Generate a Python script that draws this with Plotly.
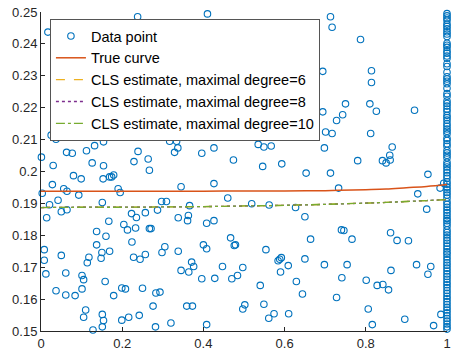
import plotly.graph_objects as go

# ---- data points (interior) ----
pts_x = [0.017,0.238,0.41,0.001,0.025,0.037,0.03,0.063,0.077,0.080,0.099,0.112,0.126,0.132,0.154,0.167,0.154,0.153,
         0.169,0.174,0.179,0.229,0.236,0.239,0.264,0.267,0.317,0.334,0.337,0.329,0.352,0.396,0.426,0.713,0.717,0.787,
         0.694,0.814,0.814,0.694,0.750,0.810,0.826,0.920,0.743,0.728,0.637,0.625,0.544,0.701,0.717,0.812,0.535,0.549,
         0.567,0.698,0.865,0.859,0.841,0.850,0.860,0.474,0.546,0.593,0.780,0.653,0.713,0.953,
         0.028,0.003,0.056,0.064,0.093,0.190,0.195,0.021,0.042,0.151,0.050,0.064,0.014,0.223,0.235,
         0.008,0.008,0.012,0.050,0.061,0.037,0.061,0.084,0.101,0.105,0.101,0.110,0.105,0.114,0.118,0.128,0.137,0.137,
         0.150,0.148,0.160,0.167,0.169,0.158,0.151,0.154,0.151,0.179,0.199,0.208,0.199,0.216,0.204,0.213,0.224,0.233,
         0.228,0.244,0.257,0.250,0.242,0.257,0.267,0.271,0.276,0.283,0.293,0.282,0.287,0.297,0.309,0.345,0.298,0.305,
         0.320,0.338,0.338,0.345,0.366,0.363,0.361,0.364,0.371,0.376,0.359,0.373,0.396,0.400,0.408,0.408,0.408,0.426,
         0.426,0.428,0.447,0.460,
         0.467,0.476,0.479,0.484,0.470,
         0.733,0.519,0.562,0.627,0.650,0.740,0.746,0.664,0.554,0.584,0.588,0.592,0.609,0.650,0.698,0.497,0.590,0.741,
         0.629,0.540,0.644,0.728,0.502,0.497,0.549,0.574,0.561,0.610,
         0.983,0.992,0.928,0.950,0.861,0.877,0.905,0.766,0.754,0.862,0.925,0.960,0.953,0.801,0.828,0.842,0.856,0.806,
         0.896,0.985,0.816,0.967]
pts_y = [0.2437,0.2485,0.2494,0.2045,0.2114,0.2101,0.2019,0.2060,0.2057,0.1987,0.1977,0.2065,0.2027,0.2081,0.2093,0.2127,0.2018,0.1977,
         0.1983,0.1983,0.1989,0.2031,0.2116,0.2063,0.2039,0.2004,0.2095,0.2095,0.2074,0.2060,0.2143,0.2057,0.2074,0.2485,0.2452,0.2414,
         0.2314,0.2316,0.2279,0.2187,0.2212,0.2212,0.2189,0.2192,0.2178,0.2160,0.2184,0.2133,0.2124,0.2124,0.2119,0.2119,0.2085,0.2077,
         0.2080,0.2074,0.2077,0.2051,0.2034,0.2027,0.2036,0.2036,0.2016,0.2024,0.2034,0.1995,0.1995,0.1991,
         0.1959,0.1932,0.1946,0.1938,0.1926,0.1946,0.1934,0.1896,0.1910,0.1903,0.1874,0.1880,0.1855,0.1868,0.1856,
         0.1755,0.1722,0.1679,0.1737,0.1682,0.1626,0.1613,0.1611,0.1674,0.1661,0.1632,0.1566,0.1543,0.1714,0.1731,0.1503,0.1770,0.1812,
         0.1746,0.1728,0.1797,0.1844,0.1750,0.1655,0.1552,0.1533,0.1513,0.1611,0.1635,0.1632,0.1534,0.1543,0.1834,0.1817,0.1779,0.1823,
         0.1731,0.1725,0.1740,0.1634,0.1549,0.1871,0.1821,0.1821,0.1578,0.1619,0.1622,0.1513,0.1879,0.1906,0.1906,0.1952,0.1746,0.1764,
         0.1525,0.1855,0.1750,0.1690,0.1893,0.1862,0.1846,0.1685,0.1716,0.1702,0.1578,0.1578,0.1664,0.1770,0.1758,0.1838,0.1520,0.1962,
         0.1846,0.1665,0.1702,0.1917,
         0.1792,0.1768,0.1770,0.1674,0.1664,
         0.1948,0.1899,0.1895,0.1887,0.1858,0.1817,0.1815,0.1788,0.1755,0.1720,0.1725,0.1730,0.1705,0.1726,0.1708,0.1699,0.1685,0.1667,
         0.1655,0.1643,0.1616,0.1605,0.1582,0.1569,0.1584,0.1554,0.1540,0.1554,
         0.1948,0.1963,0.1930,0.1882,0.1808,0.1784,0.1783,0.1788,0.1708,0.1690,0.1708,0.1702,0.1678,0.1659,0.1643,0.1646,0.1629,0.1569,
         0.1537,0.1552,0.1520,0.1517]

# ---- data points stacked at x = 1 ----
edge_y = [0.2495,0.2488,0.2481,0.2474,0.2462,0.2455,0.2447,0.2438,0.2431,0.2423,0.2402,0.2396,0.2389,0.2378,0.2371,0.2362,
          0.2355,0.2338,0.2329,0.2311,0.2297,0.2290,0.2283,0.2275,0.2261,0.2244,0.2236,0.2221,0.2213,0.2205,0.2196,0.2188,
          0.2176,0.2169,0.2161,0.2150,0.2142,0.2133,0.2126,0.2118,0.2104,0.2097,0.2087,0.2079,0.2066,0.2058,0.2051,0.2043,
          0.2029,0.2021,0.2014,0.2005,0.1996,0.1987,0.1979,0.1968,0.1960,0.1951,0.1943,0.1934,0.1926,0.1917,0.1905,0.1897,
          0.1888,0.1879,0.1871,0.1862,0.1853,0.1846,0.1838,0.1829,0.1817,0.1809,0.1801,0.1792,0.1784,0.1775,0.1766,0.1757,
          0.1748,0.1741,0.1732,0.1723,0.1714,0.1706,0.1697,0.1688,0.1679,0.1671,0.1662,0.1653,0.1645,0.1636,0.1627,0.1618,
          0.1609,0.1601,0.1592,0.1583,0.1574,0.1566,0.1557,0.1548,0.1539,0.1531,0.1522,0.1513,0.1506]
edge_x = [1.0] * len(edge_y)

# ---- curves ----
curve_x = [0.0, 0.1, 0.2, 0.3, 0.4, 0.5, 0.6, 0.7, 0.8, 0.85, 0.9, 0.95, 1.0]
true_y  = [0.1938, 0.1938, 0.1938, 0.1938, 0.1938, 0.1939, 0.1939, 0.1940, 0.1943, 0.1945, 0.1949, 0.1953, 0.1959]
cls6_y  = [0.1887, 0.1888, 0.1888, 0.1889, 0.1890, 0.1892, 0.1894, 0.1897, 0.1901, 0.1903, 0.1906, 0.1909, 0.1912]
cls8_y  = [0.1887, 0.1888, 0.1888, 0.1889, 0.1890, 0.1892, 0.1894, 0.1897, 0.1901, 0.1903, 0.1906, 0.1909, 0.1912]
cls10_y = [0.1887, 0.1888, 0.1888, 0.1889, 0.1890, 0.1892, 0.1894, 0.1897, 0.1901, 0.1903, 0.1906, 0.1909, 0.1912]

x_ticks = [0, 0.2, 0.4, 0.6, 0.8, 1]
x_labels = ["0", "0.2", "0.4", "0.6", "0.8", "1"]
y_ticks = [0.15, 0.16, 0.17, 0.18, 0.19, 0.2, 0.21, 0.22, 0.23, 0.24, 0.25]
y_labels = ["0.15", "0.16", "0.17", "0.18", "0.19", "0.2", "0.21", "0.22", "0.23", "0.24", "0.25"]

BLUE = "#0072BD"
FONT = "Liberation Sans, Arial, sans-serif"
AX = "#262626"

fig = go.Figure()
fig.add_trace(go.Scatter(
    x=pts_x + edge_x, y=pts_y + edge_y, mode="markers", name="Data point",
    marker=dict(symbol="circle-open", size=6.5, color=BLUE, line=dict(width=1.1, color=BLUE)),
    cliponaxis=False))
fig.add_trace(go.Scatter(x=curve_x, y=true_y, mode="lines", name="True curve",
                         line=dict(color="#D95319", width=1.5, shape="spline")))
fig.add_trace(go.Scatter(x=curve_x, y=cls6_y, mode="lines", name="CLS estimate, maximal degree=6",
                         line=dict(color="#EDB120", width=1.3, dash="dash", shape="spline")))
fig.add_trace(go.Scatter(x=curve_x, y=cls8_y, mode="lines", name="CLS estimate, maximal degree=8",
                         line=dict(color="#7E2F8E", width=1.3, dash="dot", shape="spline")))
fig.add_trace(go.Scatter(x=curve_x, y=cls10_y, mode="lines", name="CLS estimate, maximal degree=10",
                         line=dict(color="#77AC30", width=1.3, dash="dashdot", shape="spline")))

fig.update_layout(
    width=453, height=353,
    margin=dict(l=41, r=2, t=12, b=20),
    paper_bgcolor="white", plot_bgcolor="white",
    font=dict(family=FONT, size=13, color=AX),
    showlegend=True,
    legend=dict(x=0.022, y=0.978, xanchor="left", yanchor="top",
                bgcolor="white", bordercolor="#555555", borderwidth=1,
                font=dict(family=FONT, size=14.5, color="#000000"),
                tracegroupgap=0, itemwidth=30),
    xaxis=dict(range=[0, 1], tickvals=x_ticks, ticktext=x_labels, showgrid=False, zeroline=False,
               showline=True, linecolor=AX, linewidth=1, ticks="inside", ticklen=4, tickcolor=AX,
               mirror=False, tickfont=dict(size=13, color=AX), ticklabeloverflow="allow"),
    yaxis=dict(range=[0.15, 0.25], tickvals=y_ticks, ticktext=y_labels, showgrid=False, zeroline=False,
               showline=True, linecolor=AX, linewidth=1, ticks="inside", ticklen=4, tickcolor=AX,
               mirror=False, tickfont=dict(size=13, color=AX), ticklabeloverflow="allow"),
)

fig.write_html("out.html", config={"displayModeBar": False},
               post_script="document.body.style.margin='0';document.body.style.overflow='hidden';")
